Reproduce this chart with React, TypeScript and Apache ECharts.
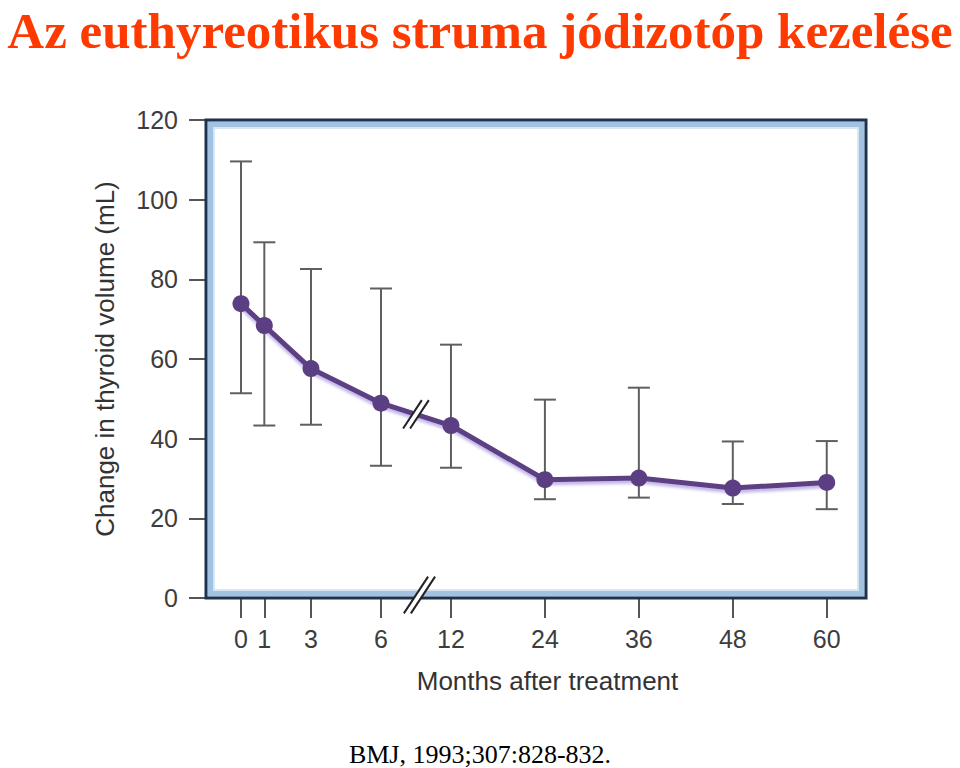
import React, { useEffect, useRef } from "react";
import * as echarts from "echarts";

// ---- data ----
const months = [0, 1, 3, 6, 12, 24, 36, 48, 60];
const meanVolume = [73.9, 68.4, 57.6, 48.9, 43.3, 29.7, 30.1, 27.6, 29.0];
const upperBar = [109.6, 89.3, 82.6, 77.7, 63.6, 49.8, 52.8, 39.3, 39.4];
const lowerBar = [51.4, 43.3, 43.5, 33.2, 32.7, 24.8, 25.2, 23.6, 22.3];
const monthLabels = ["0", "1", "3", "6", "12", "24", "36", "48", "60"];

const TITLE = "Az euthyreotikus struma jódizotóp kezelése";
const CITATION = "BMJ, 1993;307:828-832.";
const Y_NAME = "Change in thyroid volume (mL)";
const X_NAME = "Months after treatment";

// broken time axis: linear up to 6 months, compressed (about 1/3) from 12 months on
const scaleMonth = (m: number) => (m <= 6 ? m : 9 + (m - 12) / 2.98);
const BREAK_POS = 7.5;

// layout
const GRID = { left: 206, top: 120, right: 94, bottom: 170 };
const W = 960;
const H = 768;

export default function App() {
  const ref = useRef<HTMLDivElement>(null);

  useEffect(() => {
    document.body.style.margin = "0";
    if (!ref.current) return;
    const chart = echarts.init(ref.current, undefined, { renderer: "svg" });

    const xs = months.map(scaleMonth);
    const lineData = xs.map((x, i) => [x, meanVolume[i]]);
    const errData = xs.map((x, i) => [x, lowerBar[i], upperBar[i]]);

    const gx = GRID.left;
    const gy = GRID.top;
    const gw = W - GRID.left - GRID.right;
    const gh = H - GRID.top - GRID.bottom;

    const labelFont = "Liberation Sans, Arial, Helvetica, sans-serif";

    chart.setOption({
      animation: false,
      backgroundColor: "#ffffff",
      title: [
        {
          text: TITLE,
          left: "center",
          top: 0,
          padding: 0,
          textStyle: {
            fontFamily: "Liberation Serif, Times New Roman, serif",
            fontWeight: "bold",
            fontSize: 51,
            lineHeight: 62,
            color: "#ff3a00",
          },
        },
        {
          text: CITATION,
          left: "center",
          top: 736,
          textStyle: {
            fontFamily: "Liberation Serif, Times New Roman, serif",
            fontWeight: "normal",
            fontSize: 26,
            color: "#000000",
          },
        },
      ],
      grid: { left: GRID.left, top: GRID.top, right: GRID.right, bottom: GRID.bottom, show: false },
      xAxis: {
        type: "value",
        min: -1.5,
        max: 26.79,
        name: X_NAME,
        nameLocation: "middle",
        nameGap: 70,
        nameTextStyle: {
          fontFamily: labelFont,
          fontSize: 26,
          color: "#333333",
          padding: [0, 0, 0, 23],
        },
        axisLine: { show: false, onZero: false },
        splitLine: { show: false },
        axisTick: {
          show: true,
          customValues: xs,
          length: 20,
          lineStyle: { color: "#555555", width: 2 },
        },
        axisLabel: {
          customValues: xs,
          margin: 28,
          fontFamily: labelFont,
          fontSize: 25,
          color: "#3d3d3d",
          formatter: (v: number) => {
            let best = 0;
            xs.forEach((x, i) => {
              if (Math.abs(x - v) < Math.abs(xs[best] - v)) best = i;
            });
            return monthLabels[best];
          },
        },
      },
      yAxis: {
        type: "value",
        min: 0,
        max: 120,
        interval: 20,
        name: Y_NAME,
        nameLocation: "middle",
        nameGap: 88,
        nameTextStyle: { fontFamily: labelFont, fontSize: 26, color: "#333333" },
        axisLine: { show: false, onZero: false },
        splitLine: { show: false },
        axisTick: { show: true, length: 17, lineStyle: { color: "#555555", width: 2 } },
        axisLabel: { margin: 28, fontFamily: labelFont, fontSize: 25, color: "#3d3d3d" },
      },
      series: [
        {
          type: "custom",
          name: "range",
          z: 1,
          data: errData,
          encode: { x: 0, y: [1, 2] },
          renderItem: (params: any, api: any) => {
            const x = api.value(0);
            const lo = api.value(1);
            const hi = api.value(2);
            const pHi = api.coord([x, hi]);
            const pLo = api.coord([x, lo]);
            const hw = 11;
            const style = { stroke: "#5f5f5f", lineWidth: 2 };
            return {
              type: "group",
              children: [
                { type: "line", shape: { x1: pHi[0], y1: pHi[1], x2: pLo[0], y2: pLo[1] }, style },
                { type: "line", shape: { x1: pHi[0] - hw, y1: pHi[1], x2: pHi[0] + hw, y2: pHi[1] }, style },
                { type: "line", shape: { x1: pLo[0] - hw, y1: pLo[1], x2: pLo[0] + hw, y2: pLo[1] }, style },
              ],
            };
          },
        },
        {
          type: "line",
          name: "mean",
          z: 3,
          data: lineData,
          symbol: "circle",
          symbolSize: 17,
          itemStyle: { color: "#5c3f82" },
          lineStyle: {
            color: "#5c3f82",
            width: 5,
            shadowColor: "rgba(150,130,220,0.6)",
            shadowBlur: 3,
            shadowOffsetY: 3,
          },
        },
      ],
    });

    // break marks positioned through the chart's own scales
    const makeBreak = (cx: number, cy: number, len: number, sep: number, z: number) => {
      const dx = 0.55 * (len / 2);
      const dy = -0.835 * (len / 2);
      const a1 = [cx - sep / 2 - dx, cy - dy];
      const b1 = [cx - sep / 2 + dx, cy + dy];
      const a2 = [cx + sep / 2 - dx, cy - dy];
      const b2 = [cx + sep / 2 + dx, cy + dy];
      const st = { stroke: "#222222", lineWidth: 2 };
      return [
        { type: "polygon", z, shape: { points: [a1, b1, b2, a2] }, style: { fill: "#ffffff" } },
        { type: "line", z: z + 1, shape: { x1: a1[0], y1: a1[1], x2: b1[0], y2: b1[1] }, style: st },
        { type: "line", z: z + 1, shape: { x1: a2[0], y1: a2[1], x2: b2[0], y2: b2[1] }, style: st },
      ];
    };

    const p6 = chart.convertToPixel({ gridIndex: 0 }, [scaleMonth(6), meanVolume[3]]) as number[];
    const p12 = chart.convertToPixel({ gridIndex: 0 }, [scaleMonth(12), meanVolume[4]]) as number[];
    const lineBreak = [(p6[0] + p12[0]) / 2, (p6[1] + p12[1]) / 2];
    const axisBreak = chart.convertToPixel({ gridIndex: 0 }, [BREAK_POS + 0.15, 0]) as number[];

    const frame = [
      { type: "rect", z: 10, shape: { x: gx + 4.5, y: gy + 4.5, width: gw - 9, height: gh - 9 }, style: { fill: "none", stroke: "#a3c1e0", lineWidth: 6 } },
      { type: "rect", z: 10, shape: { x: gx + 8, y: gy + 8, width: gw - 16, height: gh - 16 }, style: { fill: "none", stroke: "#d6e6f5", lineWidth: 2 } },
      { type: "rect", z: 11, shape: { x: gx, y: gy, width: gw, height: gh }, style: { fill: "none", stroke: "#1b3350", lineWidth: 3 } },
    ];

    chart.setOption({
      graphic: [
        ...frame,
        ...makeBreak(axisBreak[0], axisBreak[1] - 3, 44, 7, 20),
        ...makeBreak(lineBreak[0], lineBreak[1], 34, 7, 20),
      ],
    });

    return () => chart.dispose();
  }, []);

  return <div ref={ref} style={{ width: W, height: H }} />;
}
